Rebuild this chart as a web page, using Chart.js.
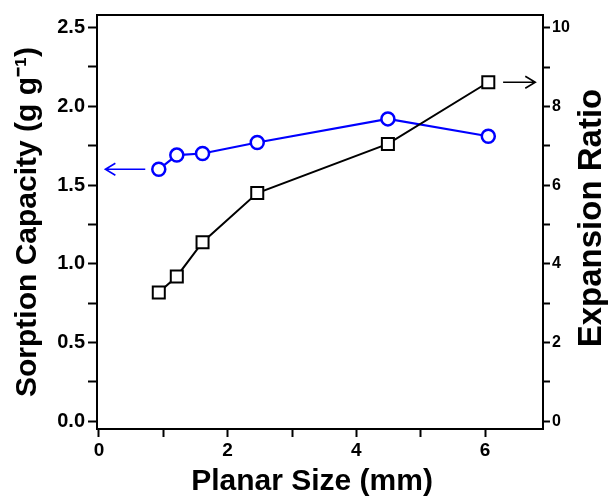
<!DOCTYPE html>
<html>
<head>
<meta charset="utf-8">
<script src="https://cdn.jsdelivr.net/npm/chart.js@4/dist/chart.umd.min.js"></script>
<style>
  html, body { margin: 0; padding: 0; background: #fff; }
  #wrap { width: 613px; height: 496px; }
</style>
</head>
<body>
<div id="wrap"><canvas id="chart" width="613" height="496"></canvas></div>
<script>
// planar size of the pieces (mm)
const planarSize = [0.93, 1.21, 1.61, 2.46, 4.49, 6.05];
// sorption capacity, g/g (left axis)
const sorption = [1.60, 1.69, 1.70, 1.77, 1.92, 1.81];
// expansion ratio (right axis)
const expansion = [3.27, 3.68, 4.55, 5.80, 7.05, 8.62];

// tick positions; labels only on the major ones
const sizeTicks = [0, 1, 2, 3, 4, 5, 6];
const sizeLabels = ["0", "", "2", "", "4", "", "6"];
const sorptionTicks = [0, 0.25, 0.5, 0.75, 1.0, 1.25, 1.5, 1.75, 2.0, 2.25, 2.5];
const sorptionLabels = ["0.0", "", "0.5", "", "1.0", "", "1.5", "", "2.0", "", "2.5"];
const ratioTicks = [0, 1, 2, 3, 4, 5, 6, 7, 8, 9, 10];
const ratioLabels = ["0", "", "2", "", "4", "", "6", "", "8", "", "10"];

const FONT = "'Liberation Sans', Arial, sans-serif";
const BLUE = "#0000ff";

function fixedTicks(values) {
  return (scale) => { scale.ticks = values.map((v) => ({ value: v })); };
}

// frame on top, arrows pointing to each series' axis, x and right-hand titles
const extras = {
  id: "extras",
  afterDraw(chart) {
    const { ctx, chartArea, scales } = chart;
    ctx.save();
    ctx.strokeStyle = "#000";
    ctx.lineWidth = 2;
    ctx.beginPath();
    ctx.moveTo(chartArea.left, chartArea.top);
    ctx.lineTo(chartArea.right, chartArea.top);
    ctx.stroke();

    const arrow = (x0, x1, y, color) => {
      ctx.strokeStyle = color;
      ctx.lineWidth = 1.6;
      ctx.beginPath();
      ctx.moveTo(x0, y);
      ctx.lineTo(x1, y);
      const d = x1 > x0 ? -1 : 1;
      ctx.moveTo(x1 + d * 10, y - 6);
      ctx.lineTo(x1, y);
      ctx.lineTo(x1 + d * 10, y + 6);
      ctx.stroke();
    };
    const x = scales.x;
    arrow(x.getPixelForValue(0.72), x.getPixelForValue(0.10), scales.y.getPixelForValue(sorption[0]), BLUE);
    arrow(x.getPixelForValue(6.28), x.getPixelForValue(6.78), scales.y1.getPixelForValue(expansion[5]), "#000");

    ctx.fillStyle = "#000";
    ctx.textAlign = "center";
    ctx.textBaseline = "middle";
    ctx.font = "bold 30px " + FONT;
    ctx.fillText("Planar Size (mm)", 312, 482);

    ctx.font = "bold 33px " + FONT;
    ctx.translate(592, 218);
    ctx.rotate(-Math.PI / 2);
    ctx.fillText("Expansion Ratio", 0, 0);
    ctx.restore();
  },
};

new Chart(document.getElementById("chart"), {
  type: "scatter",
  data: {
    datasets: [
      {
        data: planarSize.map((x, i) => ({ x, y: expansion[i] })),
        yAxisID: "y1",
        showLine: true,
        borderColor: "#000",
        borderWidth: 2,
        pointStyle: "rect",
        pointRadius: 8.5,
        pointBorderWidth: 2,
        pointBackgroundColor: "#fff",
        pointBorderColor: "#000",
      },
      {
        data: planarSize.map((x, i) => ({ x, y: sorption[i] })),
        yAxisID: "y",
        showLine: true,
        borderColor: BLUE,
        borderWidth: 2.2,
        pointStyle: "circle",
        pointRadius: 6.5,
        pointBorderWidth: 2.5,
        pointBackgroundColor: "#fff",
        pointBorderColor: BLUE,
      },
    ],
  },
  options: {
    responsive: false,
    animation: false,
    layout: { padding: { top: 14, right: 0, left: 0, bottom: 0 } },
    plugins: { legend: { display: false }, tooltip: { enabled: false } },
    scales: {
      x: {
        type: "linear",
        min: -0.03,
        max: 6.9,
        afterBuildTicks: fixedTicks(sizeTicks),
        afterFit: (s) => { s.height = 67; },
        border: { display: true, color: "#000", width: 2 },
        grid: { drawOnChartArea: false, drawTicks: true, tickLength: 8, tickColor: "#000", tickWidth: 2 },
        ticks: {
          color: "#000",
          padding: 2,
          maxRotation: 0,
          autoSkip: false,
          font: { family: FONT, weight: "bold", size: 19 },
          callback: (v, i) => sizeLabels[i],
        },
      },
      y: {
        position: "left",
        min: -0.05,
        max: 2.58,
        afterBuildTicks: fixedTicks(sorptionTicks),
        afterFit: (s) => { s.width = 97; },
        border: { display: true, color: "#000", width: 2 },
        grid: { drawOnChartArea: false, drawTicks: true, tickLength: 9, tickColor: "#000", tickWidth: 2 },
        ticks: {
          color: "#000",
          padding: 3,
          autoSkip: false,
          font: { family: FONT, weight: "bold", size: 20 },
          callback: (v, i) => sorptionLabels[i],
        },
        title: {
          display: true,
          text: "Sorption Capacity (g g\u207B\u00B9)",
          color: "#000",
          padding: { top: 13, bottom: 0 },
          font: { family: FONT, weight: "bold", size: 30, lineHeight: 1 },
        },
      },
      y1: {
        position: "right",
        min: -0.2,
        max: 10.33,
        afterBuildTicks: fixedTicks(ratioTicks),
        afterFit: (s) => { s.width = 70; },
        border: { display: true, color: "#000", width: 2 },
        grid: { drawOnChartArea: false, drawTicks: true, tickLength: 7, tickColor: "#000", tickWidth: 2 },
        ticks: {
          color: "#000",
          padding: 2,
          autoSkip: false,
          font: { family: FONT, weight: "bold", size: 16 },
          callback: (v, i) => ratioLabels[i],
        },
      },
    },
  },
  plugins: [extras],
});
</script>
</body>
</html>
